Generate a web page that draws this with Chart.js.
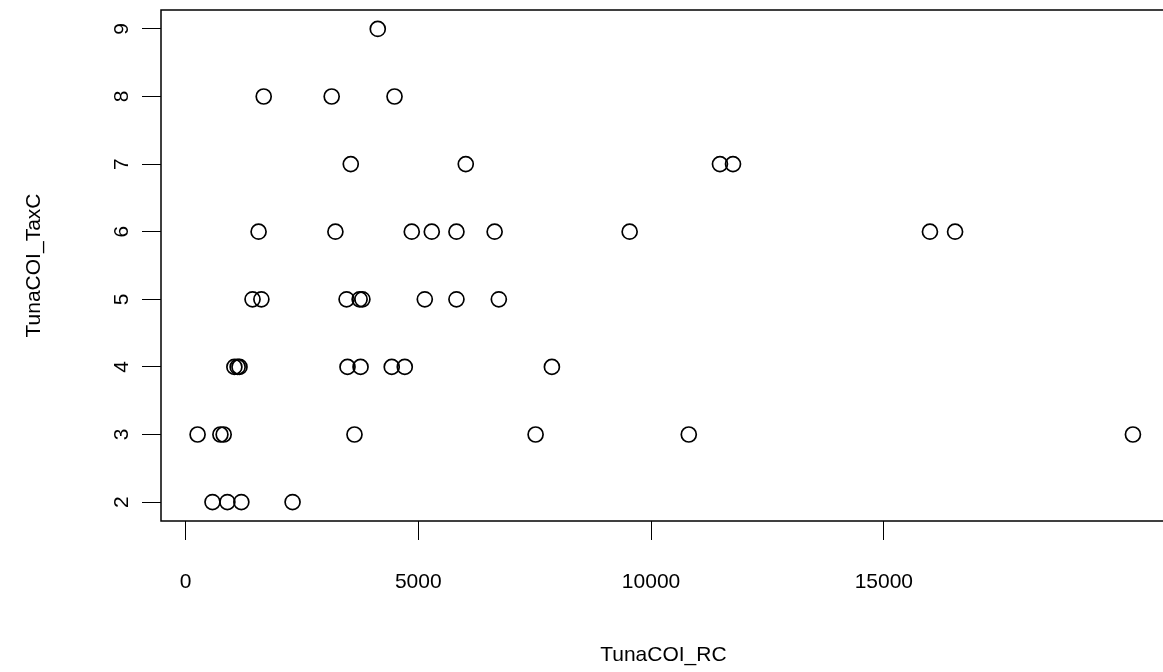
<!DOCTYPE html>
<html>
<head>
<meta charset="utf-8">
<script src="https://cdn.jsdelivr.net/npm/chart.js@4.4.1/dist/chart.umd.min.js"></script>
<style>
  html, body { margin: 0; padding: 0; background: #fff; overflow: hidden; }
  #c { display: block; }
</style>
</head>
<body>
<canvas id="c" width="1175" height="672"></canvas>
<script>
// TunaCOI_RC (x) against TunaCOI_TaxC (y)
const tunaRC = [
  4130,
  1680, 3140, 4490,
  3550, 6020, 11480, 11760,
  1570, 3220, 4860, 5290, 5820, 6640, 9540, 15990, 16530,
  1440, 1630, 3460, 3740, 3800, 5140, 5820, 6730,
  1050, 1120, 1160, 3480, 3760, 4430, 4710, 7870,
  260, 750, 820, 3630, 7520, 10810, 20350,
  580, 900, 1200, 2300
];
const tunaTaxC = [
  9,
  8, 8, 8,
  7, 7, 7, 7,
  6, 6, 6, 6, 6, 6, 6, 6, 6,
  5, 5, 5, 5, 5, 5, 5, 5,
  4, 4, 4, 4, 4, 4, 4, 4,
  3, 3, 3, 3, 3, 3, 3,
  2, 2, 2, 2
];
const xTicks = [0, 5000, 10000, 15000];
const yTicks = [2, 3, 4, 5, 6, 7, 8, 9];

const FONT = "'Liberation Sans', Arial, Helvetica, sans-serif";

// box around the plot region, like R's box()
const boxPlugin = {
  id: 'box',
  afterDraw(chart) {
    const { ctx, chartArea: a } = chart;
    ctx.save();
    ctx.strokeStyle = '#000';
    ctx.lineWidth = 1.5;
    ctx.strokeRect(a.left, a.top, a.right - a.left, a.bottom - a.top);
    ctx.restore();
  }
};

// fixed margins, no extra room for labels
function noPad(s) {
  s.paddingTop = 0;
  s.paddingBottom = 0;
  s.paddingLeft = 0;
  s.paddingRight = 0;
}

new Chart(document.getElementById('c'), {
  type: 'scatter',
  data: {
    datasets: [{
      data: tunaRC.map((x, i) => ({ x: x, y: tunaTaxC[i] })),
      pointStyle: 'circle',
      pointRadius: 7.5,
      pointHoverRadius: 7.5,
      borderColor: '#000',
      backgroundColor: 'rgba(0,0,0,0)',
      borderWidth: 1.7
    }]
  },
  options: {
    responsive: false,
    animation: false,
    devicePixelRatio: 1,
    layout: { padding: { top: 10, right: 4, left: 0, bottom: 0 } },
    plugins: {
      legend: { display: false },
      tooltip: { enabled: false }
    },
    scales: {
      x: {
        type: 'linear',
        min: -526,
        max: 21056,
        afterBuildTicks: s => { s.ticks = xTicks.map(v => ({ value: v })); },
        afterFit: s => { s.height = 151; noPad(s); },
        grid: { drawOnChartArea: false, drawTicks: true, tickLength: 19, tickColor: '#000', tickWidth: 1 },
        border: { display: false },
        ticks: {
          color: '#000',
          font: { family: FONT, size: 21 },
          padding: 30,
          maxRotation: 0,
          autoSkip: false,
          callback: v => String(v)
        },
        title: {
          display: true,
          text: 'TunaCOI_RC',
          color: '#000',
          font: { family: FONT, size: 21 },
          padding: { top: 0, bottom: 4 }
        }
      },
      y: {
        type: 'linear',
        min: 1.72,
        max: 9.28,
        afterBuildTicks: s => { s.ticks = yTicks.map(v => ({ value: v })); },
        afterFit: s => { s.width = 161; noPad(s); },
        grid: { drawOnChartArea: false, drawTicks: true, tickLength: 19, tickColor: '#000', tickWidth: 1 },
        border: { display: false },
        ticks: {
          color: '#000',
          font: { family: FONT, size: 21 },
          padding: 14,
          minRotation: 90,
          maxRotation: 90,
          crossAlign: 'center',
          autoSkip: false,
          callback: v => String(v)
        },
        title: {
          display: true,
          text: 'TunaCOI_TaxC',
          color: '#000',
          font: { family: FONT, size: 21 },
          padding: { top: 22, bottom: 0 }
        }
      }
    }
  },
  plugins: [boxPlugin]
});
</script>
</body>
</html>
